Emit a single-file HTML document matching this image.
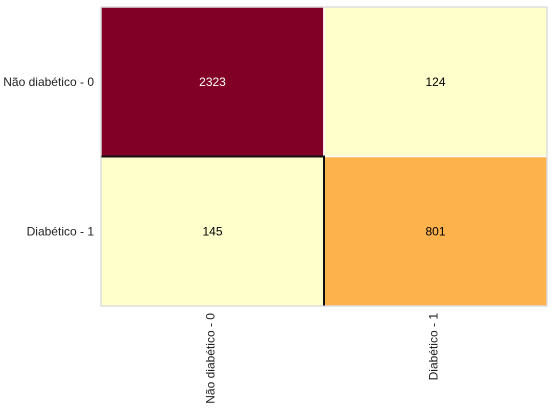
<!DOCTYPE html>
<html><head><meta charset="utf-8"><style>
body{margin:0;background:#fff;width:555px;height:411px;overflow:hidden;font-family:"Liberation Sans",sans-serif}
</style></head><body>
<svg id="chart" width="555" height="411" xmlns="http://www.w3.org/2000/svg" font-family="Liberation Sans, sans-serif" font-size="12"></svg>
<script>
const rowLabels = ["Não diabético - 0", "Diabético - 1"];
const colLabels = ["Não diabético - 0", "Diabético - 1"];
const values = [[2323, 124], [145, 801]];
const cellColors = [["#800026", "#ffffcc"], ["#ffffcc", "#feb24c"]];
const textColors = [["#ffffff", "#000000"], ["#000000", "#000000"]];

const svg = document.getElementById('chart');
const NS = "http://www.w3.org/2000/svg";
const L = 101, T = 7, R = 547, B = 306;
const cw = (R - L) / colLabels.length, ch = (B - T) / rowLabels.length;
const xPos = j => L + j * cw;
const yPos = i => T + i * ch;
function mk(tag, attrs) { const e = document.createElementNS(NS, tag); for (const k in attrs) e.setAttribute(k, attrs[k]); svg.appendChild(e); return e; }

for (let i = 0; i < rowLabels.length; i++) {
  for (let j = 0; j < colLabels.length; j++) {
    const r = mk('rect', {x: xPos(j), y: yPos(i), width: cw, height: ch, fill: cellColors[i][j], stroke: '#ffffff', 'stroke-width': 1.5});
    
    
    const t = mk('text', {x: xPos(j) + cw / 2, y: yPos(i) + ch / 2 + 4, 'text-anchor': 'middle', fill: textColors[i][j]});
    t.textContent = values[i][j];
    
    
  }
}
const hl = mk('path', {d: `M${L} ${yPos(1)} H${xPos(1)} V${B}`, fill: 'none', stroke: '#111', 'stroke-width': 2});


const fr = mk('rect', {x: L, y: T, width: R - L, height: B - T, fill: 'none', stroke: '#cccccc', 'stroke-width': 1});



rowLabels.forEach((lab, i) => {
  const t = mk('text', {x: 94, y: yPos(i) + ch / 2 + 4, 'text-anchor': 'end', fill: '#222'});
  t.textContent = lab;
  
  
});
colLabels.forEach((lab, j) => {
  const x = xPos(j) + cw / 2 + 2;
  const t = mk('text', {x: x, y: 313, 'text-anchor': 'end', fill: '#222', transform: `rotate(-90 ${x} 313)`});
  t.textContent = lab;
  
  
});
</script>
</body></html>
